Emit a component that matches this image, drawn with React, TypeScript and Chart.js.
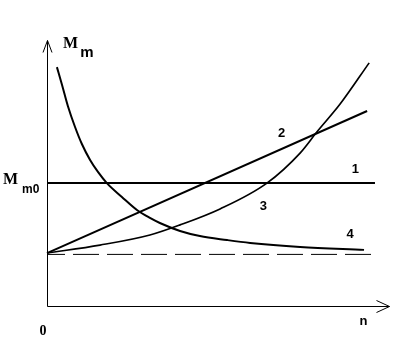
import React, { useEffect, useRef } from 'react';
import { Chart, registerables } from 'chart.js';
Chart.register(...registerables);

// Curve 1: constant M_m0
const line1X = [0, 9.59];
const line1Y = [4.62, 4.62];
// Curve 2: linear growth
const line2X = [0, 9.36];
const line2Y = [1.99, 7.33];
// Curve 3: accelerating growth
const line3X = [0, 1.55, 3.01, 3.89, 5.06, 6.43, 7.40, 7.89, 8.57, 9.42];
const line3Y = [1.99, 2.29, 2.67, 3.05, 3.65, 4.62, 5.75, 6.54, 7.59, 9.14];
// Curve 4: decaying
const line4X = [0.29, 0.44, 0.61, 0.82, 1.02, 1.26, 1.49, 1.75, 2.19, 2.63, 3.01, 3.30, 3.89, 4.47, 5.26, 5.94, 7.40, 9.27];
const line4Y = [8.98, 8.31, 7.52, 6.73, 6.09, 5.49, 5.04, 4.62, 4.10, 3.61, 3.31, 3.12, 2.82, 2.63, 2.48, 2.37, 2.22, 2.11];
// Dashed asymptote
const baseX = [0, 9.65];
const baseY = [1.94, 1.94];

// Curve number labels
const curveLabels = ['1', '2', '3', '4'];
const curveLabelX = [9.02, 6.86, 6.33, 8.86];
const curveLabelY = [5.0, 6.35, 3.61, 2.56];

const zip = (xs: number[], ys: number[]) => xs.map((x, i) => ({ x, y: ys[i] }));

const decorPlugin = {
  id: 'decor',
  afterDraw(chart: any) {
    const ctx = chart.ctx as CanvasRenderingContext2D;
    const xs = chart.scales.x;
    const ys = chart.scales.y;
    const ox = Math.round(xs.getPixelForValue(0)) + 0.5;
    const oy = Math.round(ys.getPixelForValue(0)) + 0.5;
    const top = Math.round(ys.getPixelForValue(10)) + 0.5;
    const right = Math.round(xs.getPixelForValue(10)) + 0.5;
    ctx.save();
    ctx.strokeStyle = '#000';
    ctx.lineWidth = 1;
    ctx.setLineDash([]);
    // y axis with open arrow
    ctx.beginPath();
    ctx.moveTo(ox, oy);
    ctx.lineTo(ox, top);
    ctx.moveTo(ox - 4.5, top + 12);
    ctx.lineTo(ox, top);
    ctx.lineTo(ox + 4.5, top + 12);
    // x axis with open arrow
    ctx.moveTo(ox, oy);
    ctx.lineTo(right, oy);
    ctx.moveTo(right - 13, oy - 6);
    ctx.lineTo(right, oy);
    ctx.lineTo(right - 13, oy + 6);
    ctx.stroke();

    ctx.fillStyle = '#000';
    ctx.textBaseline = 'alphabetic';
    // M_m
    ctx.textAlign = 'left';
    ctx.font = "bold 16px 'Liberation Serif', serif";
    ctx.fillText('M', xs.getPixelForValue(0.47), ys.getPixelForValue(9.7));
    ctx.font = "bold 15px 'Liberation Sans', Arial, sans-serif";
    ctx.fillText('m', xs.getPixelForValue(0.97), ys.getPixelForValue(9.36));
    // M_m0
    ctx.font = "bold 16px 'Liberation Serif', serif";
    ctx.fillText('M', 3, ys.getPixelForValue(4.62) + 1);
    ctx.font = "bold 12px 'Liberation Sans', Arial, sans-serif";
    ctx.fillText('m0', 22, ys.getPixelForValue(4.62) + 10);
    // origin 0
    ctx.textAlign = 'center';
    ctx.font = "bold 14px 'Liberation Serif', serif";
    ctx.fillText('0', xs.getPixelForValue(-0.12), ys.getPixelForValue(-1.09));
    // n
    ctx.font = "bold 13px 'Liberation Sans', Arial, sans-serif";
    ctx.fillText('n', xs.getPixelForValue(9.25), ys.getPixelForValue(-0.71));
    // curve numbers
    ctx.font = "bold 13px 'Liberation Sans', Arial, sans-serif";
    curveLabels.forEach((t, i) => {
      ctx.fillText(t, xs.getPixelForValue(curveLabelX[i]), ys.getPixelForValue(curveLabelY[i]));
    });
    ctx.restore();
  },
};

export default function App() {
  const ref = useRef<HTMLCanvasElement | null>(null);
  useEffect(() => {
    document.body.style.margin = '0';
    const canvas = ref.current;
    if (!canvas) return;
    const common = { pointRadius: 0, borderColor: '#000', fill: false, clip: false as any };
    const chart = new Chart(canvas, {
      type: 'line',
      data: {
        datasets: [
          { ...common, data: zip(line1X, line1Y), borderWidth: 2, tension: 0 },
          { ...common, data: zip(line2X, line2Y), borderWidth: 2, tension: 0 },
          { ...common, data: zip(line3X, line3Y), borderWidth: 1.7, cubicInterpolationMode: 'monotone' },
          { ...common, data: zip(line4X, line4Y), borderWidth: 2, cubicInterpolationMode: 'monotone' },
          { ...common, data: zip(baseX, baseY), borderWidth: 1, borderDash: [26, 8], borderDashOffset: 8, tension: 0 },
        ] as any,
      },
      options: {
        responsive: false,
        animation: false,
        layout: { padding: { left: 47, right: 10, top: 40, bottom: 44 } },
        plugins: { legend: { display: false }, tooltip: { enabled: false } },
        scales: {
          x: { type: 'linear', min: 0, max: 10, display: false },
          y: { type: 'linear', min: 0, max: 10, display: false },
        },
        elements: { point: { radius: 0 } },
      },
      plugins: [decorPlugin],
    });
    return () => chart.destroy();
  }, []);
  return (
    <div style={{ width: 399, height: 350, background: '#fff' }}>
      <canvas ref={ref} width={399} height={350} style={{ display: 'block' }} />
    </div>
  );
}
